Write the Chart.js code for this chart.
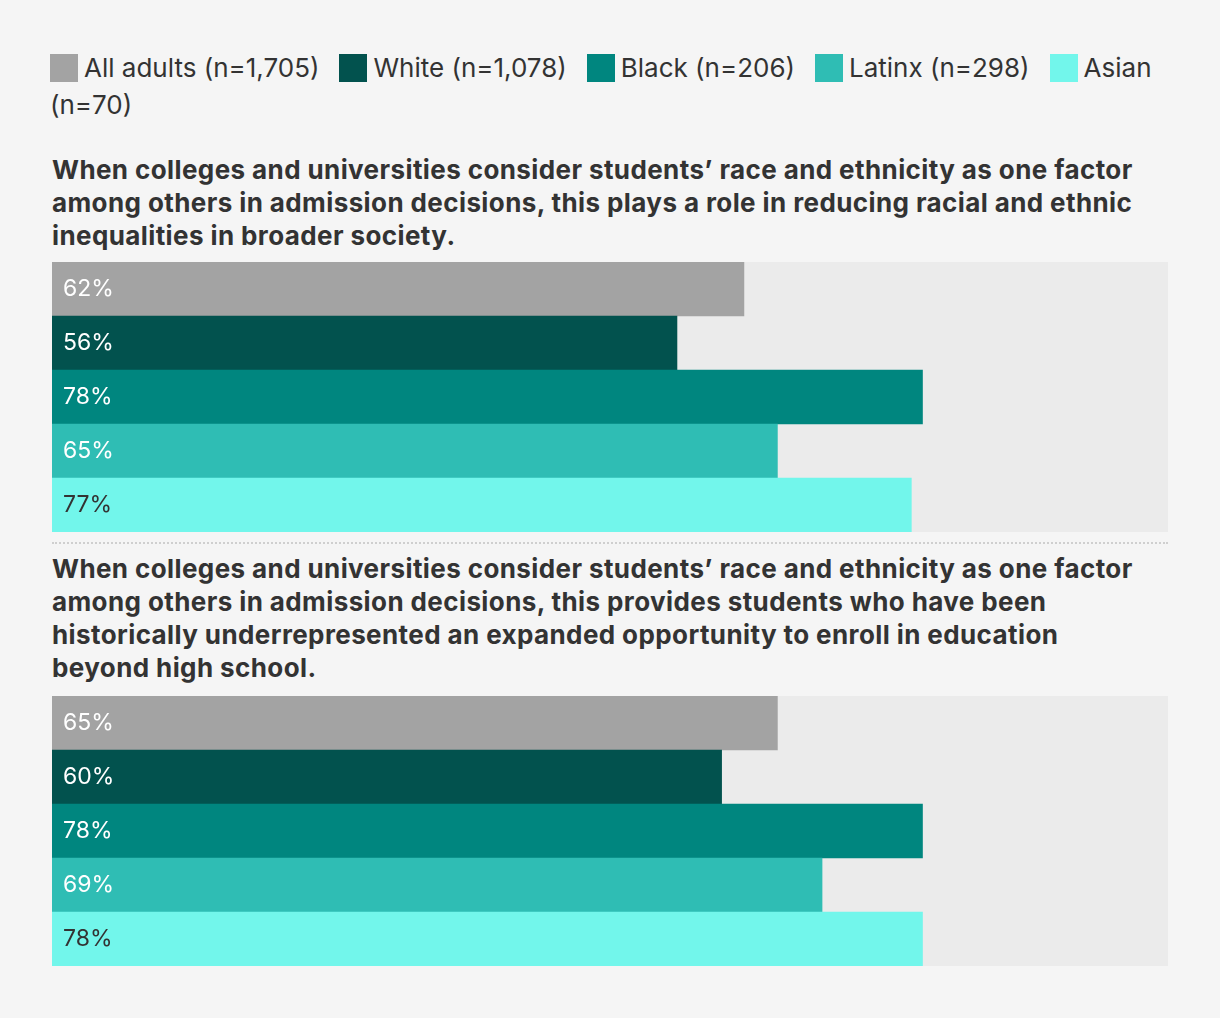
<!DOCTYPE html>
<html><head><meta charset="utf-8">
<script src="https://cdn.jsdelivr.net/npm/chart.js@4"></script>
<style>
html,body{margin:0;padding:0;background:#f5f5f5;}
body{width:1220px;height:1018px;position:relative;font-family:Inter,Lato,"Noto Sans",sans-serif;color:#333;overflow:hidden;}
#legend{position:absolute;left:50px;top:49px;width:1140px;font-size:26px;line-height:37px;}
#legend .item{white-space:nowrap;margin-right:20px;}
#legend .sw{display:inline-block;width:28px;height:28px;vertical-align:-5px;margin-right:6px;}
.title{position:absolute;left:52px;font-weight:700;font-size:26px;letter-spacing:0.4px;line-height:33px;white-space:nowrap;}
.box{position:absolute;left:52px;width:1116px;height:270px;}
#sep{position:absolute;left:52px;top:542px;width:1116px;height:0;border-top:2px dotted #cfcfcf;}
</style></head>
<body>
<div id="legend"></div>
<div class="title" id="t1" style="top:153px"></div>
<div class="box" style="top:262px"><canvas id="c1" width="1116" height="270"></canvas></div>
<div id="sep"></div>
<div class="title" id="t2" style="top:552px"></div>
<div class="box" style="top:696px"><canvas id="c2" width="1116" height="270"></canvas></div>
<script>
const groups = ["All adults", "White", "Black", "Latinx", "Asian"];
const groupN = ["n=1,705", "n=1,078", "n=206", "n=298", "n=70"];
const colors = ["#a3a3a3", "#02524e", "#00867f", "#2fbdb4", "#72f6eb"];
const labelColors = ["#ffffff", "#ffffff", "#ffffff", "#ffffff", "#333333"];
const title1Lines = [
  "When colleges and universities consider students’ race and ethnicity as one factor",
  "among others in admission decisions, this plays a role in reducing racial and ethnic",
  "inequalities in broader society."
];
const title2Lines = [
  "When colleges and universities consider students’ race and ethnicity as one factor",
  "among others in admission decisions, this provides students who have been",
  "historically underrepresented an expanded opportunity to enroll in education",
  "beyond high school."
];
const values1 = [62, 56, 78, 65, 77];
const values2 = [65, 60, 78, 69, 78];
const trackValues = [100, 100, 100, 100, 100];

// legend
const lg = document.getElementById('legend');
let html = '';
groups.forEach((g, i) => {
  if (i === groups.length - 1) {
    html += '<span class="item" style="margin-right:0"><span class="sw" style="background:' + colors[i] + '"></span>' + g + '</span><br>(' + groupN[i] + ')';
  } else {
    html += '<span class="item"><span class="sw" style="background:' + colors[i] + '"></span>' + g + ' (' + groupN[i] + ')</span>';
  }
});
lg.innerHTML = html;
document.getElementById('t1').innerHTML = title1Lines.join('<br>');
document.getElementById('t2').innerHTML = title2Lines.join('<br>');

const labelPlugin = {
  id: 'valLabels',
  afterDatasetsDraw(chart) {
    const ctx = chart.ctx;
    const meta = chart.getDatasetMeta(0);
    ctx.save();
    ctx.font = '23px Inter, Lato, "Noto Sans", sans-serif';
    ctx.textBaseline = 'middle';
    ctx.textAlign = 'left';
    meta.data.forEach((bar, i) => {
      ctx.fillStyle = labelColors[i];
      ctx.fillText(chart.data.datasets[0].data[i] + '%', bar.base + 11, bar.y);
    });
    ctx.restore();
  }
};

function makeChart(id, values) {
  new Chart(document.getElementById(id), {
    type: 'bar',
    data: {
      labels: groups,
      datasets: [
        { data: values, backgroundColor: colors, barPercentage: 1, categoryPercentage: 1, grouped: false, order: 0 },
        { data: trackValues, backgroundColor: '#ebebeb', barPercentage: 1, categoryPercentage: 1, grouped: false, order: 1 }
      ]
    },
    options: {
      indexAxis: 'y',
      responsive: false,
      animation: false,
      layout: { padding: 0 },
      plugins: { legend: { display: false }, tooltip: { enabled: false } },
      scales: {
        x: { display: false, min: 0, max: 100 },
        y: { display: false }
      }
    },
    plugins: [labelPlugin]
  });
}
makeChart('c1', values1);
makeChart('c2', values2);
</script>
</body></html>
